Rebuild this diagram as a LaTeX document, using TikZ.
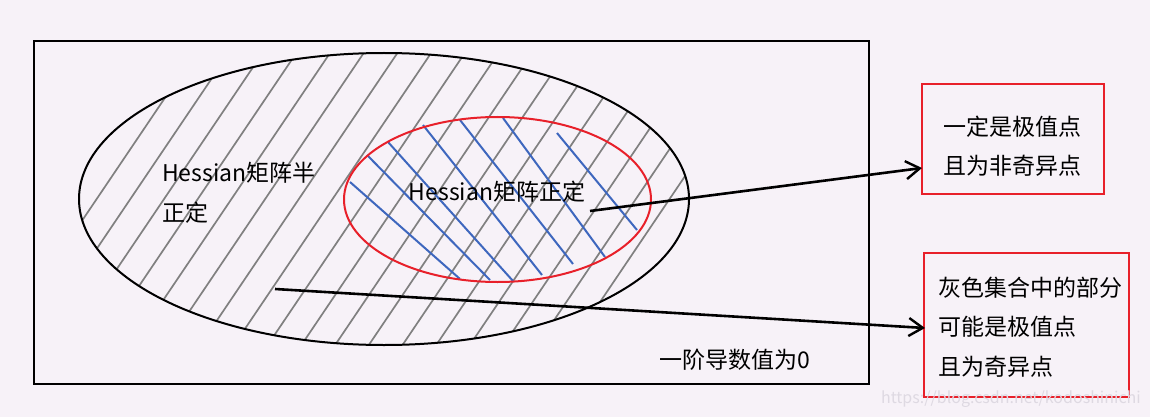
\documentclass[tikz,border=0pt]{standalone}
\usepackage{fontspec}
\setmainfont{Noto Sans CJK SC}
\usetikzlibrary{arrows.meta,shapes.geometric}
\definecolor{bgc}{RGB}{247,242,248}
\definecolor{redc}{RGB}{232,32,42}
\definecolor{bluec}{RGB}{62,103,190}
\definecolor{grayc}{RGB}{128,128,128}
\definecolor{wmc}{RGB}{222,217,226}
\tikzset{
  frame/.style={draw=black, line width=2pt, inner sep=0pt},
  redbox/.style={draw=redc, line width=2pt, inner sep=0pt},
  hatchg/.style={draw=grayc, line width=1.7pt},
  hatchb/.style={draw=bluec, line width=2pt},
  arr/.style={draw=black, line width=2.6pt, -{Straight Barb[length=14pt,width=18pt,line width=2.4pt]}},
  lbl/.style={inner sep=0pt, font=\fontsize{23}{39.5}\selectfont},
}
\begin{document}
\begin{tikzpicture}[x=1pt,y=-1pt]
\fill[bgc] (0,0) rectangle (1150,417);
\useasboundingbox (0,0) rectangle (1150,417);

% outer frame
\node[frame, minimum width=835, minimum height=343, anchor=north west] (frame) at (33,40) {};

% grey hatching inside big ellipse
\begin{scope}
  \clip (384,199) ellipse [x radius=305, y radius=146];
  \foreach \i in {0,...,17} {
    \pgfmathsetmacro{\xc}{96+33.7*\i}
    \draw[hatchg] (\xc-135,400) -- (\xc+135,0);
  }
\end{scope}

% blue hatching inside red ellipse
\begin{scope}
  \draw[hatchb] (350,182) -- (460,279);
  \draw[hatchb] (367,155) -- (490,280);
  \draw[hatchb] (388,142) -- (513,281);
  \draw[hatchb] (423,125) -- (542,275);
  \draw[hatchb] (460,120) -- (573,264);
  \draw[hatchb] (503,118) -- (605,257);
  \draw[hatchb] (557,133) -- (637,230);
\end{scope}

% ellipses
\node[ellipse, draw=black, line width=2pt, minimum width=610, minimum height=292, inner sep=0pt] (big) at (384,199) {};
\node[ellipse, draw=redc, line width=2pt, minimum width=307, minimum height=165, inner sep=0pt] (small) at (497.5,199.5) {};

% labels inside
\node[lbl, anchor=west, align=left] (semi) at (162,193) {Hessian矩阵半\\正定};
\node[lbl, anchor=center] (pos) at (497,192) {Hessian矩阵正定};
\node[lbl, anchor=center] (zero) at (735,360) {一阶导数值为0};

% right boxes
\node[redbox, minimum width=182, minimum height=110] (box1) at (1013,139) {};
\node[lbl, align=center] (t1) at (1012,146) {一定是极值点\\且为非奇异点};
\node[redbox, minimum width=205, minimum height=144] (box2) at (1026.5,325) {};
\node[lbl, anchor=west, align=left] (t2) at (938,327) {灰色集合中的部分\\可能是极值点\\且为奇异点};

% arrows
\coordinate (s1) at (590,211);
\coordinate (e1) at (922,168);
\coordinate (s2) at (275,289);
\coordinate (e2) at (925,328);
\draw[arr] (s1) -- (e1);
\draw[arr] (s2) -- (e2);

% watermark
\node[inner sep=0pt, font=\fontsize{16}{16}\selectfont, text=wmc, anchor=east] (wm) at (1141,399) {https://blog.csdn.net/kodoshinichi};
\end{tikzpicture}
\end{document}
